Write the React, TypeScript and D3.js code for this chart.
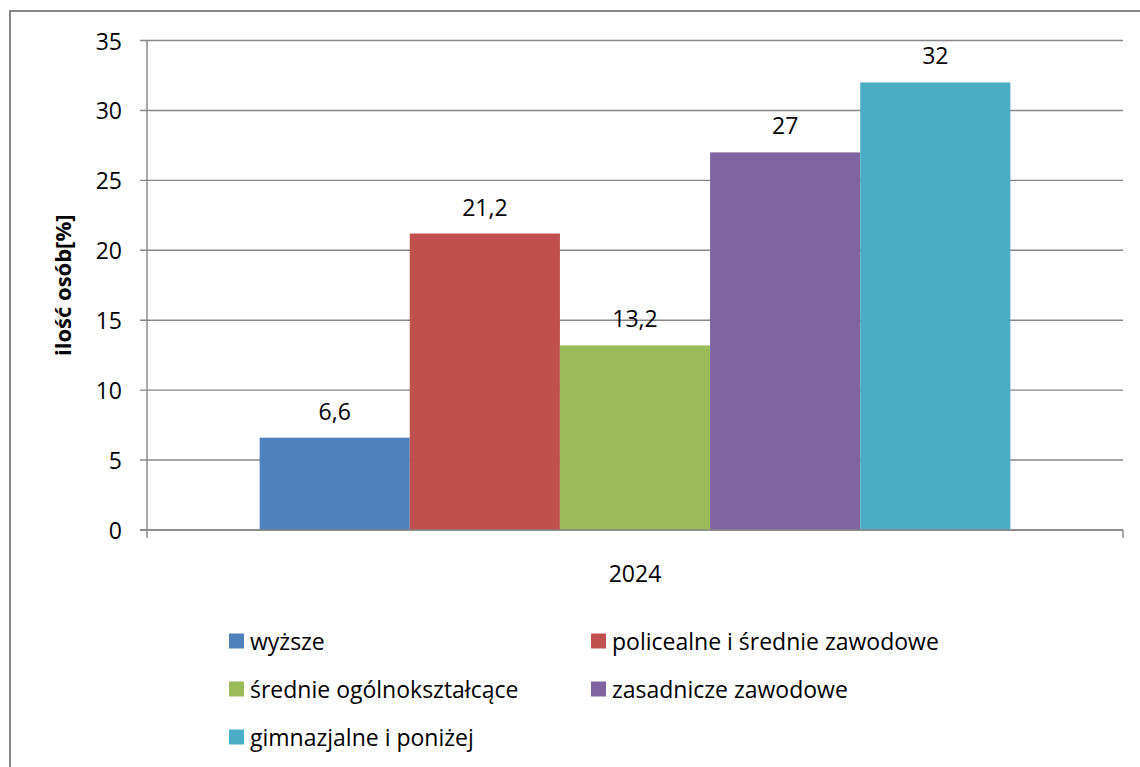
import React from "react";
import * as d3 from "d3";

const categories = ["2024"];
const seriesNames = [
  "wyższe",
  "policealne i średnie zawodowe",
  "średnie ogólnokształcące",
  "zasadnicze zawodowe",
  "gimnazjalne i poniżej",
];
const seriesValues = [6.6, 21.2, 13.2, 27, 32];
const seriesColors = ["#4F81BD", "#C0504D", "#9BBB59", "#8064A2", "#4BACC6"];
const yTicks = [0, 5, 10, 15, 20, 25, 30, 35];
const yTitle = "ilość osób[%]";

const W = 1140;
const H = 767;
const FONT = "'Open Sans', sans-serif";
const FS = 23;

const plot = { left: 147, right: 1123, top: 40.5, bottom: 530 };

const plLocale = d3.formatLocale({
  decimal: ",",
  thousands: " ",
  grouping: [3],
  currency: ["", " zł"],
});
const fmt = (v: number) => (Number.isInteger(v) ? String(v) : plLocale.format(".1f")(v));

export default function App() {
  const y = d3.scaleLinear().domain([0, 35]).range([plot.bottom, plot.top]);
  const x0 = d3
    .scaleBand<string>()
    .domain(categories)
    .range([plot.left, plot.right])
    .paddingInner(0)
    .paddingOuter(0);
  // Excel gap width 150% -> group occupies 5/(5+1.5) of the band
  const bandW = x0.bandwidth();
  const barW = bandW / (seriesNames.length + 1.5);
  const x1 = d3
    .scaleBand<string>()
    .domain(seriesNames)
    .range([0, barW * seriesNames.length]);
  const groupOffset = (bandW - barW * seriesNames.length) / 2;

  const gridColor = "#868686";

  const legendCols = [229, 591];
  const legendRows = [641, 689, 737];

  return (
    <svg
      width={W}
      height={H}
      style={{ position: "absolute", left: 0, top: 0, background: "#fff" }}
      fontFamily={FONT}
    >
      <rect x={0} y={0} width={W} height={H} fill="#fff" />
      <rect
        x={10}
        y={11}
        width={W + 20}
        height={H + 20}
        fill="none"
        stroke={gridColor}
        strokeWidth={2}
      />
      {/* gridlines + y ticks */}
      {yTicks.map((t) => (
        <g key={t}>
          <line
            x1={plot.left - 7}
            x2={plot.right}
            y1={y(t)}
            y2={y(t)}
            stroke={gridColor}
            strokeWidth={1.4}
          />
          <text
            x={122}
            y={y(t)}
            textAnchor="end"
            dominantBaseline="central"
            fontSize={FS}
            fill="#000"
          >
            {t}
          </text>
        </g>
      ))}
      {/* bars */}
      {categories.map((c) => (
        <g key={c} transform={`translate(${(x0(c) ?? 0) + groupOffset},0)`}>
          {seriesNames.map((s, i) => {
            const v = seriesValues[i];
            const bx = x1(s) ?? 0;
            return (
              <g key={s}>
                <rect
                  x={bx}
                  y={y(v)}
                  width={x1.bandwidth()}
                  height={y(0) - y(v)}
                  fill={seriesColors[i]}
                />
                <text
                  x={bx + x1.bandwidth() / 2}
                  y={y(v) - 18}
                  textAnchor="middle"
                  fontSize={FS}
                  fill="#000"
                >
                  {fmt(v)}
                </text>
              </g>
            );
          })}
        </g>
      ))}
      {/* axes */}
      <line
        x1={plot.left}
        x2={plot.left}
        y1={plot.top}
        y2={plot.bottom + 8}
        stroke={gridColor}
        strokeWidth={1.4}
      />
      <line
        x1={plot.left - 7}
        x2={plot.right}
        y1={plot.bottom}
        y2={plot.bottom}
        stroke={gridColor}
        strokeWidth={1.4}
      />
      <line
        x1={plot.right}
        x2={plot.right}
        y1={plot.bottom}
        y2={plot.bottom + 8}
        stroke={gridColor}
        strokeWidth={1.4}
      />
      {categories.map((c) => (
        <text
          key={c}
          x={(x0(c) ?? 0) + bandW / 2}
          y={573}
          textAnchor="middle"
          dominantBaseline="central"
          fontSize={FS}
          fill="#000"
        >
          {c}
        </text>
      ))}
      {/* y title */}
      <text
        transform={`translate(62,${(plot.top + plot.bottom) / 2}) rotate(-90)`}
        textAnchor="middle"
        dominantBaseline="central"
        fontSize={22}
        fontWeight="bold"
        fill="#000"
      >
        {yTitle}
      </text>
      {/* legend */}
      {seriesNames.map((s, i) => {
        const lx = legendCols[i % 2];
        const ly = legendRows[Math.floor(i / 2)];
        return (
          <g key={s}>
            <rect x={lx} y={ly - 7.5} width={15} height={15} fill={seriesColors[i]} />
            <text
              x={lx + 21}
              y={ly}
              dominantBaseline="central"
              fontSize={FS}
              fill="#000"
            >
              {s}
            </text>
          </g>
        );
      })}
    </svg>
  );
}
